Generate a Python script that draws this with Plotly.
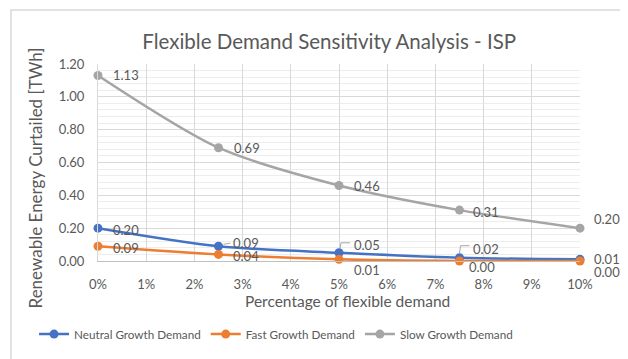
import plotly.graph_objects as go

x_pct = [0, 2.5, 5, 7.5, 10]
neutral = [0.20, 0.09, 0.05, 0.02, 0.01]
fast = [0.09, 0.04, 0.01, 0.00, 0.00]
slow = [1.13, 0.69, 0.46, 0.31, 0.20]
x_ticks = [0, 1, 2, 3, 4, 5, 6, 7, 8, 9, 10]
x_ticklabels = ["0%", "1%", "2%", "3%", "4%", "5%", "6%", "7%", "8%", "9%", "10%"]
y_ticks = [0.0, 0.2, 0.4, 0.6, 0.8, 1.0, 1.2]
y_ticklabels = ["0.00", "0.20", "0.40", "0.60", "0.80", "1.00", "1.20"]

FONT = "Lato"
TXT = "#595959"
LEAD = "#A6A6A6"

series = [
    ("Neutral Growth Demand", neutral, "#4472C4"),
    ("Fast Growth Demand", fast, "#ED7D31"),
    ("Slow Growth Demand", slow, "#A5A5A5"),
]

fig = go.Figure()
for name, vals, col in series:
    fig.add_trace(go.Scatter(
        x=x_pct, y=vals, name=name, mode="lines+markers",
        line=dict(color=col, width=2.5, shape="spline", smoothing=0.8),
        marker=dict(color=col, size=9),
        cliponaxis=False,
    ))

# data label offsets in pixels (dx, dy up-positive) and optional leader path (pixel offsets)
label_style = {
    "Neutral Growth Demand": [
        (28, -2, None),
        (27, 3, [(5, 2), (12, 3)]),
        (28, 8, [(11, 10), (2, 10), (1, 4)]),
        (26, 9, [(10, 12), (1, 12), (0, 4)]),
        (27, 0, None),
    ],
    "Fast Growth Demand": [
        (28, -2, None),
        (27, -2, None),
        (28, -11, [(1, -4), (1, -10), (11, -10)]),
        (22, -6, None),
        (27, -11, [(0, -4), (2, -10), (9, -10)]),
    ],
    "Slow Growth Demand": [
        (28, 0, None),
        (28, 0, None),
        (28, -1, None),
        (26, -2, None),
        (27, 9, [(7, 10), (3, 10), (0, 5)]),
    ],
}
for name, vals, col in series:
    for xv, yv, (dx, dy, lead) in zip(x_pct, vals, label_style[name]):
        fig.add_annotation(
            x=xv, y=yv, text=f"{yv:.2f}", showarrow=False,
            xshift=dx, yshift=dy, xanchor="center", yanchor="middle",
            font=dict(family=FONT, size=13, color=TXT),
        )
        if lead:
            path = "M" + " L".join(f"{px},{py}" for px, py in lead)
            fig.add_shape(type="path", xref="x", yref="y",
                          xsizemode="pixel", ysizemode="pixel",
                          xanchor=xv, yanchor=yv, path=path,
                          line=dict(color=LEAD, width=1))

# axis titles as annotations for precise placement
fig.add_annotation(text="Renewable Energy Curtailed [TWh]", xref="paper", yref="paper",
                   x=-0.1307, y=0.419, textangle=-90, showarrow=False,
                   xanchor="center", yanchor="middle",
                   font=dict(family=FONT, size=17, color=TXT))
fig.add_annotation(text="Percentage of flexible demand", xref="paper", yref="paper",
                   x=0.5166, y=-0.205, showarrow=False,
                   xanchor="center", yanchor="middle",
                   font=dict(family=FONT, size=15.5, color=TXT))

fig.update_layout(
    width=620, height=351,
    margin=dict(l=90, r=48, t=56, b=98),
    paper_bgcolor="white", plot_bgcolor="white",
    font=dict(family=FONT, color=TXT, size=13),
    title=dict(text="Flexible Demand Sensitivity Analysis - ISP",
               x=0.518, xanchor="center", y=0.905, yanchor="middle",
               font=dict(family=FONT, size=20.5, color=TXT)),
    showlegend=True,
    legend=dict(orientation="h", xref="container", yref="container",
                x=0.042, xanchor="left", y=0.071, yanchor="middle",
                font=dict(family=FONT, size=11.7, color=TXT), itemwidth=30,
                tracegroupgap=0),
    xaxis=dict(range=[0, 10], tickvals=x_ticks, ticktext=x_ticklabels,
               showgrid=True, gridcolor="#D9D9D9", gridwidth=1,
               zeroline=False, showline=True, linecolor="#BFBFBF",
               ticks="", ticklabelstandoff=11, automargin=False,
               tickfont=dict(family=FONT, size=13, color=TXT)),
    yaxis=dict(range=[0, 1.2], tickvals=y_ticks, ticktext=y_ticklabels,
               showgrid=True, gridcolor="#D9D9D9", gridwidth=1,
               minor=dict(dtick=0.04, showgrid=True, gridcolor="#EDEDED", gridwidth=1),
               zeroline=False, showline=True, linecolor="#D9D9D9",
               ticks="", ticklabelstandoff=10, automargin=False,
               tickfont=dict(family=FONT, size=13, color=TXT)),
)
fig.add_shape(type="rect", xref="paper", yref="paper",
              x0=-0.1805, x1=1.3, y0=-0.8, y1=1.274,
              line=dict(color="#D9D9D9", width=1.5), fillcolor="rgba(0,0,0,0)", layer="below")

fig.write_html("out.html")
